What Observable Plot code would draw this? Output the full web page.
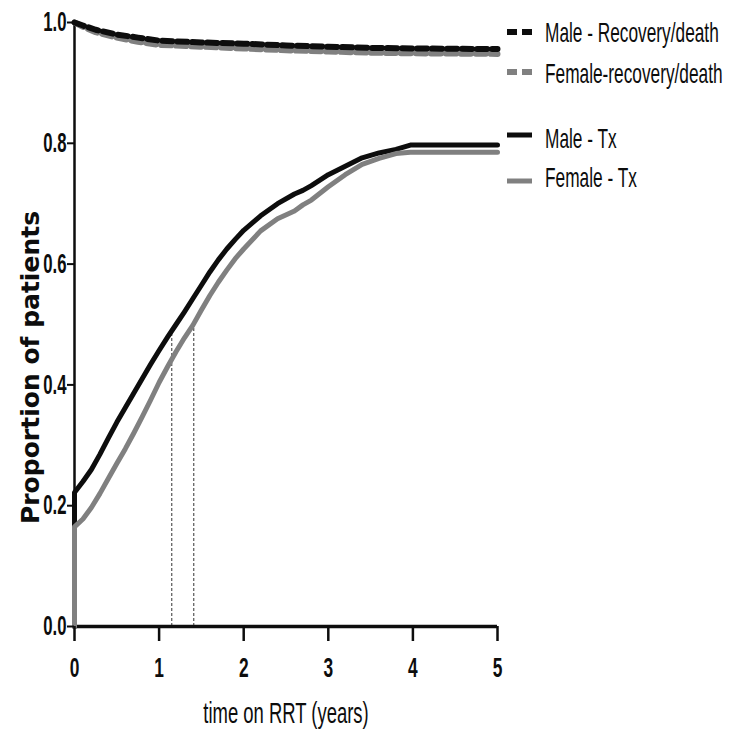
<!DOCTYPE html>
<html><head><meta charset="utf-8">
<script src="https://cdn.jsdelivr.net/npm/d3@7"></script>
<script src="https://cdn.jsdelivr.net/npm/@observablehq/plot@0.6"></script>
<style>
body{margin:0;background:#fff;}
#wrap{position:relative;width:739px;height:734px;}
#wrap svg{position:absolute;left:0;top:0;}
</style></head><body><div id="wrap"></div><script>
// ---- data ----
const seriesNames = ["Male - Recovery/death", "Female-recovery/death", "Male - Tx", "Female - Tx"];
const txTime   = [0, 0, 0.1, 0.2, 0.3, 0.4, 0.5, 0.6, 0.7, 0.8, 0.9, 1.0, 1.1, 1.2, 1.3, 1.4, 1.5, 1.6, 1.7, 1.8, 1.9, 2.0, 2.2, 2.4, 2.6, 2.7, 2.8, 3.0, 3.2, 3.4, 3.6, 3.8, 3.97, 5.0];
const maleTx   = [0, 0.222, 0.24, 0.26, 0.285, 0.312, 0.338, 0.362, 0.386, 0.41, 0.434, 0.457, 0.479, 0.50, 0.521, 0.543, 0.565, 0.587, 0.607, 0.625, 0.641, 0.656, 0.68, 0.70, 0.716, 0.722, 0.73, 0.748, 0.762, 0.776, 0.784, 0.79, 0.797, 0.797];
const femaleTx = [0, 0.165, 0.178, 0.197, 0.22, 0.245, 0.27, 0.294, 0.32, 0.347, 0.375, 0.404, 0.43, 0.455, 0.478, 0.499, 0.524, 0.548, 0.57, 0.59, 0.609, 0.625, 0.655, 0.675, 0.688, 0.698, 0.706, 0.728, 0.748, 0.765, 0.775, 0.783, 0.785, 0.785];
const recTime   = [0, 0.1, 0.25, 0.5, 0.75, 1.0, 1.5, 2.0, 2.5, 3.0, 3.5, 4.0, 5.0];
const maleRec   = [1.0, 0.995, 0.988, 0.98, 0.975, 0.970, 0.967, 0.965, 0.962, 0.960, 0.958, 0.957, 0.956];
const femaleRec = [1.0, 0.993, 0.984, 0.975, 0.968, 0.963, 0.960, 0.957, 0.954, 0.952, 0.950, 0.949, 0.948];
const medianTime  = [1.15, 1.41];
const medianValue = [0.49, 0.50];
const xTicks = [0, 1, 2, 3, 4, 5];
const yTicks = [0, 0.2, 0.4, 0.6, 0.8, 1.0];
const xLabel = "time on RRT (years)";
const yLabel = "Proportion of patients";

// ---- tables ----
const toRows = (t, v) => t.map((d, i) => ({t: d, v: v[i]}));
const mTx = toRows(txTime, maleTx), fTx = toRows(txTime, femaleTx);
const mRec = toRows(recTime, maleRec), fRec = toRows(recTime, femaleRec);
const med = toRows(medianTime, medianValue);

const BLACK = "#0d0d0d", GRAY = "#808080";
const SANS = "'Liberation Sans', Arial, sans-serif";

const chart = Plot.plot({
  width: 739, height: 734,
  marginLeft: 74, marginRight: 242, marginTop: 22, marginBottom: 108,
  x: {domain: [0, 5]},
  y: {domain: [0, 1]},
  style: {background: "white", color: BLACK},
  marks: [
    Plot.ruleX(med, {x: "t", y1: 0, y2: "v", stroke: "#333", strokeWidth: 1, strokeDasharray: "3,2"}),
    Plot.ruleY([0], {stroke: BLACK, strokeWidth: 3.5}),
    Plot.ruleX([0], {stroke: BLACK, strokeWidth: 2.5}),
    Plot.line(mTx, {x: "t", y: "v", stroke: BLACK, strokeWidth: 5}),
    Plot.line(fTx, {x: "t", y: "v", stroke: GRAY, strokeWidth: 5}),
    Plot.line(fRec, {x: "t", y: "v", stroke: GRAY, strokeWidth: 6, strokeDasharray: "10,5"}),
    Plot.line(mRec, {x: "t", y: "v", stroke: BLACK, strokeWidth: 6, strokeDasharray: "10,5"}),
    Plot.axisY({ticks: yTicks, tickFormat: d => d.toFixed(1), tickSize: 7, tickPadding: 1, strokeWidth: 2, label: null}),
    Plot.axisX({ticks: xTicks, tickFormat: d => String(d), tickSize: 15, tickPadding: 4, strokeWidth: 2.5, label: null}),
    Plot.text([xLabel], {frameAnchor: "bottom", textAnchor: "middle", dy: 96, fill: BLACK}),
    Plot.text([yLabel], {frameAnchor: "left", textAnchor: "middle", rotate: -90, dx: -44, dy: 43, fill: BLACK})
  ]
});

// text styling: horizontally condensed, as in the original figure
const xTickText = xTicks.map(String), yTickText = yTicks.map(d => d.toFixed(1));
d3.select(chart).selectAll("text").each(function() {
  const el = this;
  const content = el.textContent;
  let tr = el.getAttribute("transform");
  if (!tr) {
    const x = +el.getAttribute("x") || 0, y = +el.getAttribute("y") || 0;
    el.removeAttribute("x"); el.removeAttribute("y");
    tr = `translate(${x},${y})`;
  }
  if (content === yLabel) {
    el.style.fontFamily = "'DejaVu Sans', sans-serif";
    el.style.fontSize = "25px";
    el.style.fontWeight = "bold";
    return;
  }
  el.style.fontFamily = SANS;
  let sx = 0.62, extra = "";
  if (content === xLabel) { el.style.fontSize = "30px"; sx = 0.615; }
  else if (xTickText.includes(content)) { el.style.fontSize = "28px"; el.style.fontWeight = "bold"; extra = " translate(0,12)"; }
  else if (yTickText.includes(content)) { el.style.fontSize = "27px"; el.style.fontWeight = "bold"; }
  el.setAttribute("transform", tr + extra + ` scale(${sx},1)`);
});

const wrap = document.getElementById("wrap");
wrap.appendChild(chart);

// ---- legend (overlay) ----
const legendStyles = [
  {color: BLACK, dash: "10,5", sw: 6, sy: 32, by: 42},
  {color: GRAY,  dash: "10,5", sw: 6, sy: 72, by: 83},
  {color: BLACK, dash: null,   sw: 5, sy: 135, by: 148},
  {color: GRAY,  dash: null,   sw: 5, sy: 181, by: 187}
];
const leg = d3.select(wrap).append("svg").attr("width", 739).attr("height", 734)
  .style("pointer-events", "none");
seriesNames.forEach((name, i) => {
  const s = legendStyles[i];
  leg.append("line").attr("x1", 507).attr("x2", 532).attr("y1", s.sy).attr("y2", s.sy)
    .attr("stroke", s.color).attr("stroke-width", s.sw).attr("stroke-dasharray", s.dash);
  leg.append("text").attr("transform", `translate(545,${s.by}) scale(0.64,1)`)
    .attr("font-family", SANS).attr("font-size", 27).attr("fill", BLACK).text(name);
});
</script></body></html>
